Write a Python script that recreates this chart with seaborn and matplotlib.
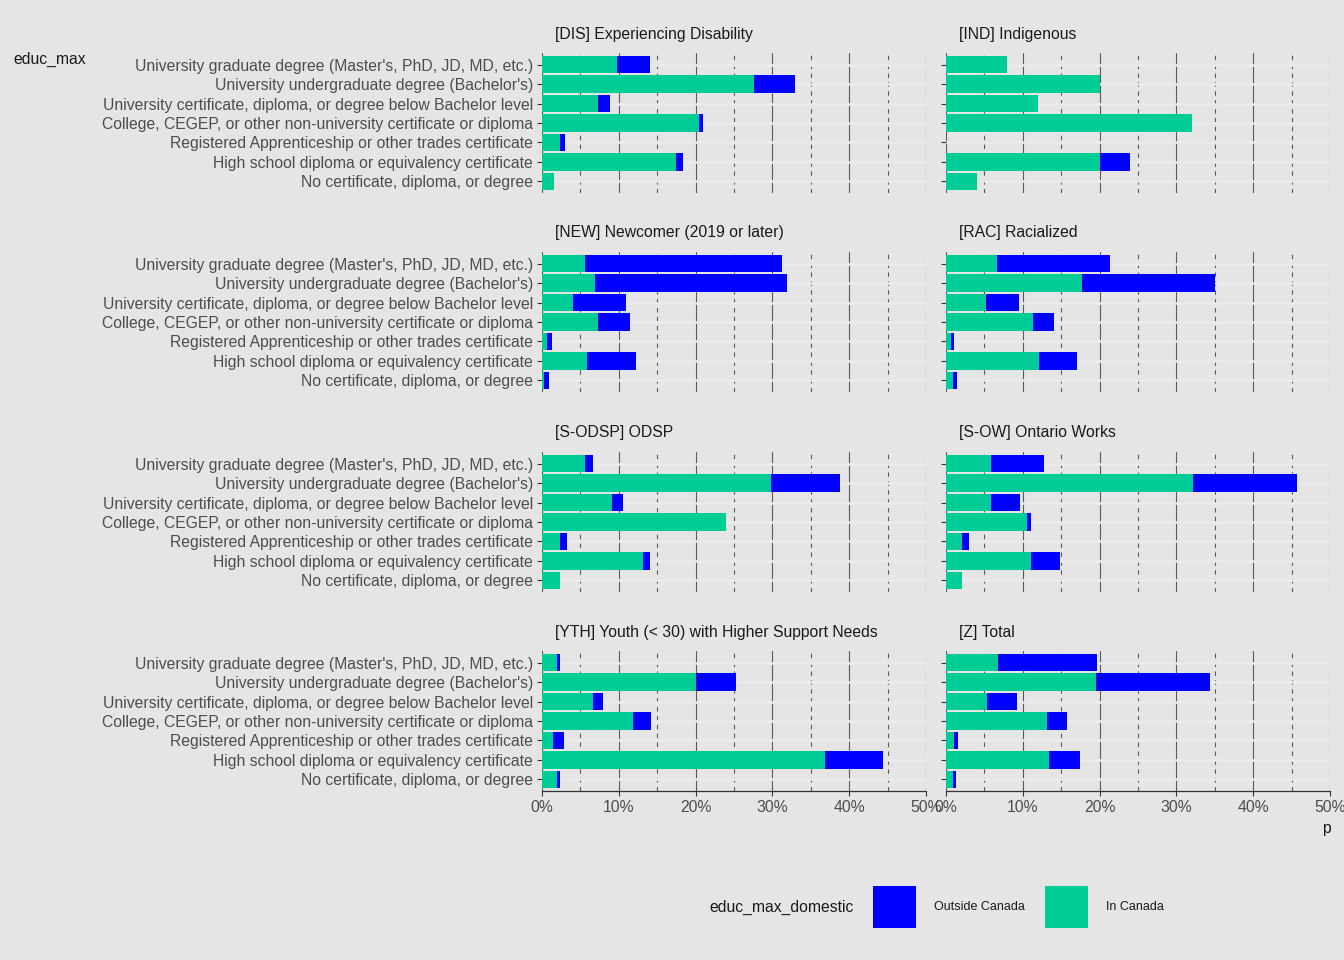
import matplotlib
matplotlib.use("Agg")
import matplotlib.pyplot as plt
import numpy as np
import pandas as pd
import seaborn as sns
from matplotlib.patches import Patch
from matplotlib.ticker import MultipleLocator, FuncFormatter

sns.set_style("white")
plt.rcParams["font.family"] = ["Liberation Sans", "DejaVu Sans"]

BG = "#E5E5E5"
BLUE = "#0000FF"
GREEN = "#00CC96"

educ_levels = [
    "University graduate degree (Master's, PhD, JD, MD, etc.)",
    "University undergraduate degree (Bachelor's)",
    "University certificate, diploma, or degree below Bachelor level",
    "College, CEGEP, or other non-university certificate or diploma",
    "Registered Apprenticeship or other trades certificate",
    "High school diploma or equivalency certificate",
    "No certificate, diploma, or degree",
]

groups = [
    "[DIS] Experiencing Disability",
    "[IND] Indigenous",
    "[NEW] Newcomer (2019 or later)",
    "[RAC] Racialized",
    "[S-ODSP] ODSP",
    "[S-OW] Ontario Works",
    "[YTH] Youth (< 30) with Higher Support Needs",
    "[Z] Total",
]

# percent of group, in educ_levels order
in_canada = {
    "[DIS] Experiencing Disability": [9.8, 27.6, 7.3, 20.4, 2.3, 17.4, 1.5],
    "[IND] Indigenous": [7.9, 20.0, 12.0, 32.0, 0.0, 20.0, 4.0],
    "[NEW] Newcomer (2019 or later)": [5.6, 6.9, 4.1, 7.3, 0.7, 5.8, 0.3],
    "[RAC] Racialized": [6.7, 17.7, 5.2, 11.3, 0.6, 12.1, 0.9],
    "[S-ODSP] ODSP": [5.6, 29.8, 9.1, 23.9, 2.4, 13.2, 2.4],
    "[S-OW] Ontario Works": [5.9, 32.1, 5.9, 10.5, 2.1, 11.1, 2.1],
    "[YTH] Youth (< 30) with Higher Support Needs": [1.9, 20.0, 6.6, 11.9, 1.4, 36.8, 1.9],
    "[Z] Total": [6.8, 19.5, 5.4, 13.1, 1.0, 13.4, 0.9],
}
outside_canada = {
    "[DIS] Experiencing Disability": [4.3, 5.3, 1.5, 0.5, 0.7, 1.0, 0.0],
    "[IND] Indigenous": [0.0, 0.0, 0.0, 0.0, 0.0, 4.0, 0.0],
    "[NEW] Newcomer (2019 or later)": [25.6, 25.0, 6.8, 4.1, 0.6, 6.4, 0.6],
    "[RAC] Racialized": [14.6, 17.3, 4.3, 2.8, 0.5, 4.9, 0.5],
    "[S-ODSP] ODSP": [1.0, 9.0, 1.5, 0.0, 0.8, 0.8, 0.0],
    "[S-OW] Ontario Works": [6.8, 13.6, 3.8, 0.6, 0.9, 3.8, 0.0],
    "[YTH] Youth (< 30) with Higher Support Needs": [0.4, 5.3, 1.4, 2.3, 1.4, 7.6, 0.4],
    "[Z] Total": [12.9, 14.9, 3.9, 2.7, 0.5, 4.0, 0.4],
}

rows = []
for g in groups:
    for e, a, b in zip(educ_levels, in_canada[g], outside_canada[g]):
        rows.append({"group": g, "educ_max": e, "in_canada": a,
                     "outside": b, "total": a + b})
df = pd.DataFrame(rows)

W, H = 1344, 960
fig = plt.figure(figsize=(W / 100, H / 100), dpi=100, facecolor=BG)

col_left = [542, 946]
row_top = [53, 252, 452, 651]
pw, ph = 384, 140
FS = 11.3

for i, g in enumerate(groups):
    r, c = divmod(i, 2)
    ax = fig.add_axes([col_left[c] / W, 1 - (row_top[r] + ph) / H, pw / W, ph / H])
    ax.set_facecolor(BG)
    sub = df[df["group"] == g]

    # stacked: total in blue underneath, in-Canada share on top
    sns.barplot(data=sub, x="total", y="educ_max", order=educ_levels,
                color=BLUE, width=0.9, saturation=1, linewidth=0,
                edgecolor="none", ax=ax, zorder=3)
    sns.barplot(data=sub, x="in_canada", y="educ_max", order=educ_levels,
                color=GREEN, width=0.9, saturation=1, linewidth=0,
                edgecolor="none", ax=ax, zorder=4)

    ax.set_xlim(0, 50)
    ax.set_ylim(6.6, -0.6)
    ax.xaxis.set_major_locator(MultipleLocator(10))
    ax.xaxis.set_minor_locator(MultipleLocator(5))
    ax.xaxis.set_major_formatter(FuncFormatter(lambda v, p: f"{v:.0f}%"))

    ax.grid(axis="y", color="#EBEBEB", lw=1.8, zorder=0)
    ax.grid(axis="x", which="major", color="#5A5A5A", lw=0.8, zorder=1)
    ax.grid(axis="x", which="minor", color="#5A5A5A", lw=0.8,
            ls=(0, (4, 4)), zorder=1)
    ax.set_axisbelow(True)

    for s in ax.spines.values():
        s.set_visible(False)
    if r == 3:
        ax.spines["bottom"].set_visible(True)
        ax.spines["bottom"].set_color("#333333")
        ax.spines["bottom"].set_linewidth(0.9)

    ax.tick_params(axis="y", which="both", length=3.5, width=0.8,
                   color="#333333", pad=3, labelsize=FS, labelcolor="#4D4D4D",
                   left=True, labelleft=(c == 0))
    ax.tick_params(axis="x", which="minor", length=0)
    ax.tick_params(axis="x", which="major", length=3.5, width=0.8,
                   color="#333333", pad=3, labelsize=FS, labelcolor="#4D4D4D",
                   bottom=(r == 3), labelbottom=(r == 3))
    ax.set_xlabel("")
    ax.set_ylabel("")

    fig.text((col_left[c] + 13) / W, 1 - (row_top[r] - 19) / H, g,
             fontsize=FS, color="#1A1A1A", ha="left", va="center")

fig.text(13 / W, 1 - 59 / H, "educ_max", fontsize=FS, color="#1A1A1A",
         ha="left", va="center")
fig.text(1326 / W, 1 - 829 / H, "p", fontsize=FS, color="#1A1A1A",
         ha="center", va="center")

fig.text(709 / W, 1 - 907 / H, "educ_max_domestic", fontsize=FS,
         color="#1A1A1A", ha="left", va="center")
handles = [Patch(facecolor=BLUE, edgecolor="none", label="Outside Canada"),
           Patch(facecolor=GREEN, edgecolor="none", label="In Canada")]
leg = fig.legend(handles=handles, ncol=2, loc="center left",
                 bbox_to_anchor=(873 / W, 1 - 907 / H), frameon=False,
                 fontsize=9, handlelength=3.4, handleheight=4.8,
                 handletextpad=1.45, columnspacing=1.65, borderpad=0,
                 borderaxespad=0)
for t in leg.get_texts():
    t.set_color("#1A1A1A")

fig.savefig("out.png", dpi=100, facecolor=BG)
